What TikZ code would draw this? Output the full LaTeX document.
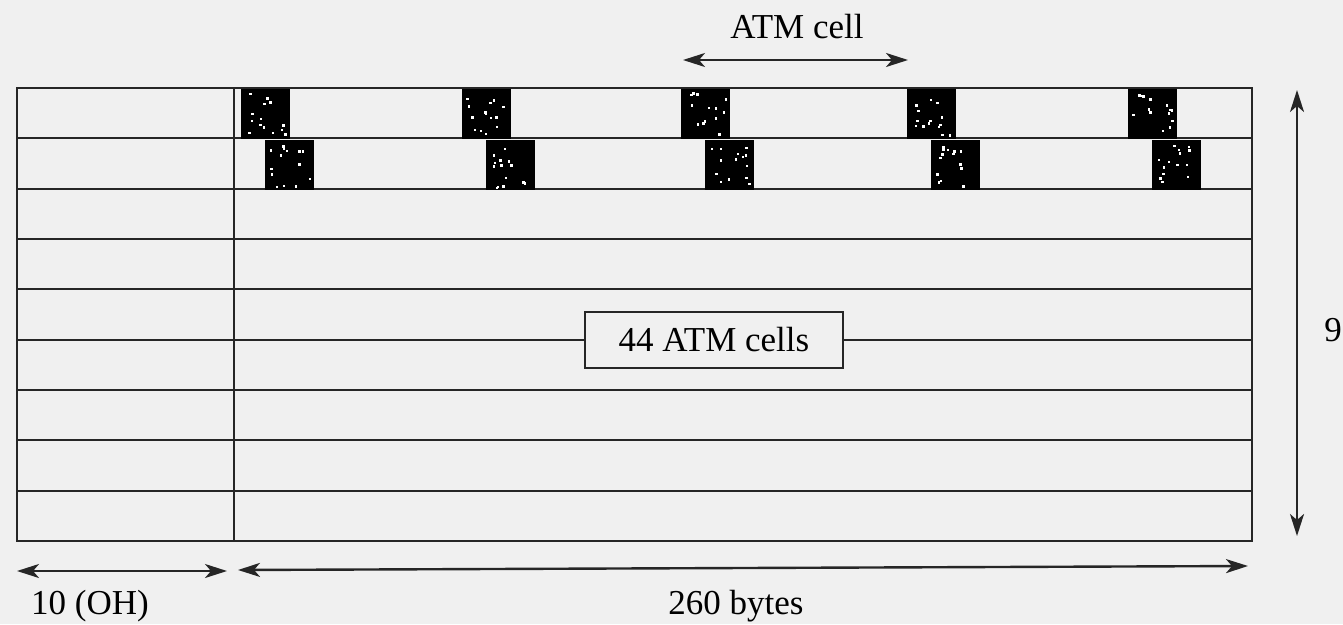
\documentclass[tikz,border=0pt]{standalone}
\usepackage{fontspec}
\setmainfont{Liberation Serif}
\usetikzlibrary{arrows.meta}
\definecolor{paper}{RGB}{240,240,240}
\begin{document}
\begin{tikzpicture}[x=1pt,y=-1pt,
  grid/.style={line width=2.2pt,draw=black!85},
  dimarrow/.style={line width=2.4pt,draw=black!85,{Stealth[length=22pt,width=14pt,inset=6pt]}-{Stealth[length=22pt,width=14pt,inset=6pt]}},
  hdr/.style={fill=black},
  speck/.style={fill=white},
  lbl/.style={font=\fontsize{35}{40}\selectfont,inner sep=0pt}]
\fill[paper] (0,0) rectangle (1343,624);
\useasboundingbox (0,0) rectangle (1343,624);
% rows
\foreach \i in {1,...,8}{
  \draw[grid] (17,{88+\i*50.33}) -- (1252,{88+\i*50.33});
}
\draw[grid] (17,88) rectangle (1252,541);
\draw[grid] (234,88) -- (234,541);
% cell headers
\pgfmathsetseed{7}
\foreach \x in {241,462,681,907,1128}{
  \fill[hdr] (\x,89) rectangle ++(49,49.5);
  \fill[hdr] ({\x+23.5},139.5) rectangle ++(49,50);
  \foreach \k in {1,...,14}{
    \fill[speck] ({\x+4+41*rnd},{92+44*rnd}) rectangle ++(2.5,2.5);
    \fill[speck] ({\x+27.5+41*rnd},{143+44*rnd}) rectangle ++(2.5,2.5);
  }
}
% 44 ATM cells box
\node[draw=black!85,line width=2.2pt,fill=paper,minimum width=258pt,minimum height=56pt,lbl] (cells) at (714,340) {44 ATM cells};
% ATM cell arrow
\coordinate (ac1) at (683,60);
\coordinate (ac2) at (908,60);
\draw[dimarrow] (ac1) -- (ac2);
\node[lbl] (atm) at (797,27) {ATM cell};
% right arrow
\coordinate (r1) at (1297,90);
\coordinate (r2) at (1297,536);
\draw[dimarrow] (r1) -- (r2);
\node[lbl] (nine) at (1333,330) {9};
% bottom arrows
\coordinate (b1) at (17,571);
\coordinate (b2) at (227,571);
\coordinate (b3) at (238,570);
\coordinate (b4) at (1248,566);
\draw[dimarrow] (b1) -- (b2);
\draw[dimarrow] (b3) -- (b4);
\node[lbl] (oh) at (90,606) {10 (OH)};
\node[lbl] (bytes) at (736,606) {260 bytes};
\end{tikzpicture}
\end{document}
